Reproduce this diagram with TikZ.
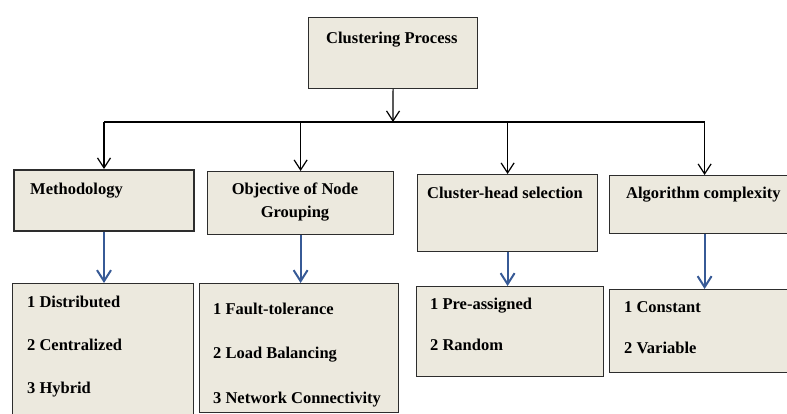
\documentclass[tikz,border=0pt]{standalone}
\usepackage{fontspec}
\setmainfont{Liberation Serif}
\usetikzlibrary{arrows.meta}
\definecolor{boxfill}{RGB}{236,233,222}
\definecolor{boxline}{RGB}{45,45,45}
\definecolor{arrowblue}{RGB}{55,90,150}
\tikzset{
  box/.style={draw=boxline, fill=boxfill, line width=1.2pt, rectangle, anchor=north west, inner sep=0pt},
  txt/.style={anchor=base west, inner sep=0pt, font=\fontsize{16.5}{20}\selectfont\bfseries},
  blackarrow/.style={-{Straight Barb[length=10pt,width=13pt]}, line width=1.2pt, black},
  bluearrow/.style={-{Straight Barb[length=11pt,width=14pt]}, line width=2pt, arrowblue}
}
\begin{document}
\begin{tikzpicture}[x=1pt, y=-1pt]
  \clip (0,0) rectangle (787,414);
  \useasboundingbox (0,0) rectangle (787,414);
  % top
  \node [box, minimum width=169pt, minimum height=71pt] (proc) at (308,17) {};
  \node [txt] (proct) at (326,44) {Clustering Process};
  % second row
  \node [box, line width=2pt, minimum width=180pt, minimum height=61pt] (meth) at (13,169) {};
  \node [box, minimum width=186pt, minimum height=63pt] (obj) at (207,171) {};
  \node [box, minimum width=180pt, minimum height=77pt] (chs) at (417,174) {};
  \node [box, minimum width=190pt, minimum height=58pt] (algo) at (609,175) {};
  \node [txt] (metht) at (30,195) {Methodology};
  \node [txt, anchor=base] (objt) at (295,195) {Objective of Node};
  \node [txt, anchor=base] (objt2) at (295,218) {Grouping};
  \node [txt] (chst) at (427,199) {Cluster-head selection};
  \node [txt] (algot) at (626,199) {Algorithm complexity};
  % lists
  \node [box, minimum width=181pt, minimum height=137pt] (methlist) at (12,283) {};
  \node [box, minimum width=199pt, minimum height=129pt] (objlist) at (199,283) {};
  \node [box, minimum width=187pt, minimum height=90pt] (chslist) at (416,286) {};
  \node [box, minimum width=190pt, minimum height=83pt] (algolist) at (609,289) {};
  \node [txt] (m1) at (27,307) {1 Distributed};
  \node [txt] (m2) at (27,350) {2 Centralized};
  \node [txt] (m3) at (27,393) {3 Hybrid};
  \node [txt] (o1) at (213,314) {1 Fault-tolerance};
  \node [txt] (o2) at (213,358) {2 Load Balancing};
  \node [txt] (o3) at (213,403) {3 Network Connectivity};
  \node [txt] (c1) at (430,309) {1 Pre-assigned};
  \node [txt] (c2) at (430,350) {2 Random};
  \node [txt] (a1) at (624,312) {1 Constant};
  \node [txt] (a2) at (624,353) {2 Variable};
  % connectors
  \coordinate (bus) at (393,122);
  \draw [line width=1.5pt, black] (meth.north |- bus) -- (algo.north |- bus);
  \draw [blackarrow] (proc.south) -- (bus);
  \draw [blackarrow] (meth.north |- bus) -- (meth.north);
  \draw [blackarrow] (obj.north |- bus) -- (obj.north);
  \draw [blackarrow] (chs.north |- bus) -- (chs.north);
  \draw [blackarrow] (algo.north |- bus) -- (algo.north);
  \draw [bluearrow] (meth.south) -- (meth.south |- methlist.north);
  \draw [bluearrow] (obj.south) -- (obj.south |- objlist.north);
  \draw [bluearrow] (chs.south) -- (chs.south |- chslist.north);
  \draw [bluearrow] (algo.south) -- (algo.south |- algolist.north);
\end{tikzpicture}
\end{document}
